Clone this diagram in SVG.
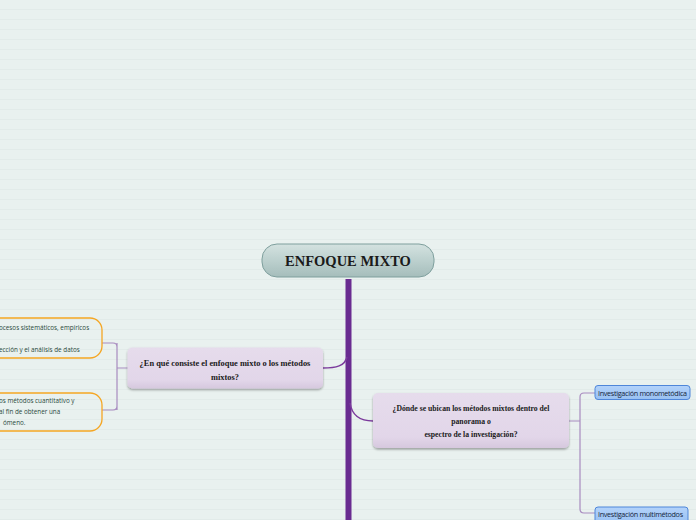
<svg xmlns="http://www.w3.org/2000/svg" width="696" height="520" viewBox="0 0 696 520">
<defs>
<pattern id="ruled" x="0" y="0" width="696" height="10" patternUnits="userSpaceOnUse">
<rect width="696" height="10" fill="#e9f1ef"/>
<rect y="9.5" width="696" height="1" fill="#dbe5e3"/>
</pattern>
<linearGradient id="gCentral" x1="0" y1="0" x2="0" y2="1">
<stop offset="0" stop-color="#d4e2e0"/>
<stop offset="0.5" stop-color="#bcd0ce"/>
<stop offset="1" stop-color="#a5bdbb"/>
</linearGradient>
<linearGradient id="gTopic" x1="0" y1="0" x2="0" y2="1">
<stop offset="0" stop-color="#e6dcec"/>
<stop offset="0.8" stop-color="#e2d6e9"/>
<stop offset="1" stop-color="#d6c8de"/>
</linearGradient>
<linearGradient id="gBlue" x1="0" y1="0" x2="0" y2="1">
<stop offset="0" stop-color="#b4d3fa"/>
<stop offset="1" stop-color="#98c0f2"/>
</linearGradient>
<filter id="shadow" x="-10%" y="-20%" width="120%" height="150%">
<feDropShadow dx="0" dy="1.5" stdDeviation="1" flood-color="#000" flood-opacity="0.35"/>
</filter>
</defs>
<style>
.topic{fill:url(#gTopic);filter:url(#shadow)}
.ttext{font-family:"Liberation Serif","Times New Roman",serif;font-weight:bold;fill:#1a1a1a;text-anchor:middle}
.sub{fill:none;stroke:#f5a623;stroke-width:1.3}
.stext{font-family:"Open Sans","Liberation Sans",sans-serif;font-size:6.3px;fill:#2a4a3c}
.leaf{fill:url(#gBlue);stroke:#4f86d9;stroke-width:1}
.ltext{font-family:"Open Sans","Liberation Sans",sans-serif;font-size:7.2px;fill:#141e3a;letter-spacing:-0.3px}
.conn{fill:none;stroke:#7b3a9c;stroke-width:1.5}
.conn2{fill:none;stroke:#a88bbf;stroke-width:1.2}
</style>
<rect width="696" height="520" fill="url(#ruled)"/>

<g id="connectors">
<rect x="345.5" y="279" width="6" height="241" fill="#6a2c91"/>
<path class="conn" d="M323,368 C336,368 345,366 347,357"/>
<path class="conn" d="M350,403 C352,416 360,421 373,421"/>
<path class="conn2" d="M128,368 H117 M117,343 V410 M102,343 H113 Q117,343 117,347 M102,410 H113 Q117,410 117,406"/>
<path class="conn2" d="M569,421 H580 M595,393 H584 Q580,393 580,397 V509 Q580,513 584,513 H595"/>
</g>

<g id="central">
<rect x="262" y="244" width="172" height="33" rx="15" fill="url(#gCentral)" stroke="#7e9f9d" stroke-width="1"/>
<text x="348" y="266" class="ttext" font-size="14.5">ENFOQUE MIXTO</text>
</g>

<g id="topic-left">
<rect x="127.5" y="347.5" width="195.5" height="41" rx="5" class="topic"/>
<text x="225" y="366" class="ttext" font-size="8.4">¿En qué consiste el enfoque mixto o los métodos</text>
<text x="225" y="380" class="ttext" font-size="8.4">mixtos?</text>
</g>

<g id="topic-right">
<rect x="373" y="393" width="196" height="55" rx="5" class="topic"/>
<text x="471" y="411" class="ttext" font-size="7.7">¿Dónde se ubican los métodos mixtos dentro del</text>
<text x="471" y="424" class="ttext" font-size="7.7">panorama o</text>
<text x="471" y="437" class="ttext" font-size="7.7">espectro de la investigación?</text>
</g>

<g id="sub-1">
<rect x="-30" y="318" width="132" height="40" rx="12" class="sub"/>
<text x="-1" y="330" class="stext">ocesos sistemáticos, empíricos</text>
<text x="-1" y="352" class="stext">ección y el análisis de datos</text>
</g>

<g id="sub-2">
<rect x="-30" y="393" width="132" height="38" rx="12" class="sub"/>
<text x="-1" y="403" class="stext">os métodos cuantitativo y</text>
<text x="-1" y="414" class="stext">al fin de obtener una</text>
<text x="3" y="425" class="stext">ómeno.</text>
</g>

<g id="leaf-1">
<rect x="595" y="385.5" width="95" height="14" rx="3" class="leaf"/>
<text x="598" y="395.5" class="ltext">Investigación monometódica</text>
</g>

<g id="leaf-2">
<rect x="595" y="507" width="93" height="16" rx="3" class="leaf"/>
<text x="598" y="517" class="ltext">Investigación multimétodos</text>
</g>
</svg>
